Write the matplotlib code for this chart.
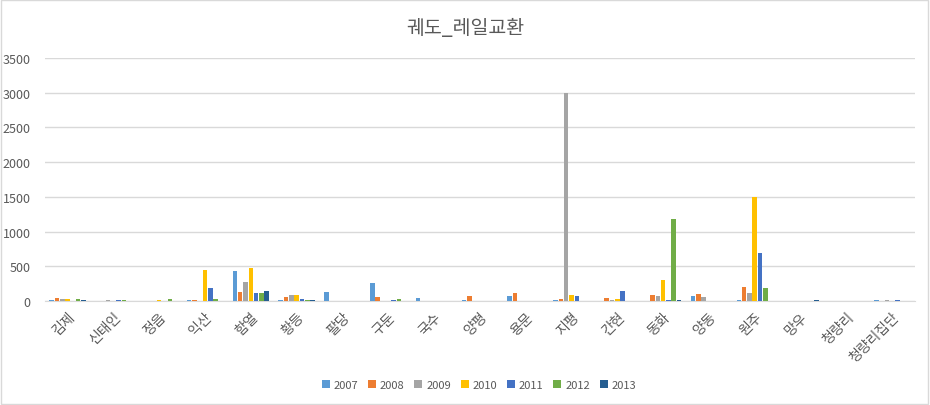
import numpy as np
import matplotlib.pyplot as plt
from matplotlib.patches import Rectangle

plt.rcParams['font.family'] = ['Noto Sans CJK KR', 'DejaVu Sans']

# 역 이름 (x축)
stations = ['김제', '신태인', '정읍', '익산', '함열', '황등', '팔당', '구둔', '국수', '양평',
            '용문', '지평', '간현', '동화', '양동', '원주', '망우', '청량리', '청량리집단']
years = ['2007', '2008', '2009', '2010', '2011', '2012', '2013']

# 연도별 값
v2007 = [15, 0, 0, 15, 432, 15, 130, 253, 48, 18, 77, 15, 0, 0, 77, 15, 0, 0, 15]
v2008 = [43, 0, 0, 15, 130, 58, 0, 62, 0, 77, 120, 33, 48, 91, 105, 206, 0, 0, 0]
v2009 = [30, 15, 0, 0, 274, 87, 0, 0, 0, 0, 0, 2990, 15, 77, 62, 120, 0, 0, 15]
v2010 = [30, 0, 15, 446, 475, 87, 0, 0, 0, 0, 0, 91, 30, 302, 0, 1500, 0, 0, 0]
v2011 = [0, 15, 0, 187, 115, 30, 0, 15, 0, 0, 0, 77, 148, 15, 0, 690, 0, 0, 15]
v2012 = [30, 15, 30, 30, 115, 15, 0, 33, 0, 0, 0, 0, 0, 1180, 0, 187, 0, 0, 0]
v2013 = [15, 0, 0, 0, 145, 15, 0, 0, 0, 0, 0, 0, 0, 15, 0, 0, 15, 0, 0]

series = [v2007, v2008, v2009, v2010, v2011, v2012, v2013]
colors = ['#5B9BD5', '#ED7D31', '#A5A5A5', '#FFC000', '#4472C4', '#70AD47', '#255E91']

fig = plt.figure(figsize=(9.3, 4.06), dpi=100)
ax = fig.add_axes([0.048, 0.256, 0.936, 0.599])

x = np.arange(len(stations))
slot = 0.116
width = 0.1
for i, (vals, c) in enumerate(zip(series, colors)):
    offs = (i - 3) * slot
    ax.bar(x + offs, vals, width=width, color=c, label=years[i], zorder=3)

ax.set_xlim(-0.5, len(stations) - 0.5)
ax.set_ylim(0, 3500)
ax.set_yticks(np.arange(0, 3501, 500))
ax.grid(axis='y', color='#D9D9D9', linewidth=1, zorder=0)
ax.set_xticks(x)
ax.set_xticklabels(stations, rotation=45, ha='right', rotation_mode='anchor',
                   fontsize=10, color='#595959')
ax.tick_params(axis='y', length=0, labelsize=9, labelcolor='#595959', pad=10)
ax.tick_params(axis='x', length=0, pad=6)
for s in ['top', 'right', 'left']:
    ax.spines[s].set_visible(False)
ax.spines['bottom'].set_color('#D9D9D9')

fig.text(0.5, 0.93, '궤도_레일교환', ha='center', va='center', fontsize=14, color='#595959')

leg = fig.legend(loc='center', bbox_to_anchor=(0.515, 0.05), ncol=7, frameon=False,
                 fontsize=8, handlelength=0.7, handleheight=0.7, handletextpad=0.35,
                 columnspacing=0.9)
for t in leg.get_texts():
    t.set_color('#595959')

fig.patches.append(Rectangle((0.001, 0.002), 0.997, 0.995, transform=fig.transFigure,
                             fill=False, edgecolor='#D9D9D9', linewidth=1))

plt.savefig('out.png', dpi=100)
plt.close()
